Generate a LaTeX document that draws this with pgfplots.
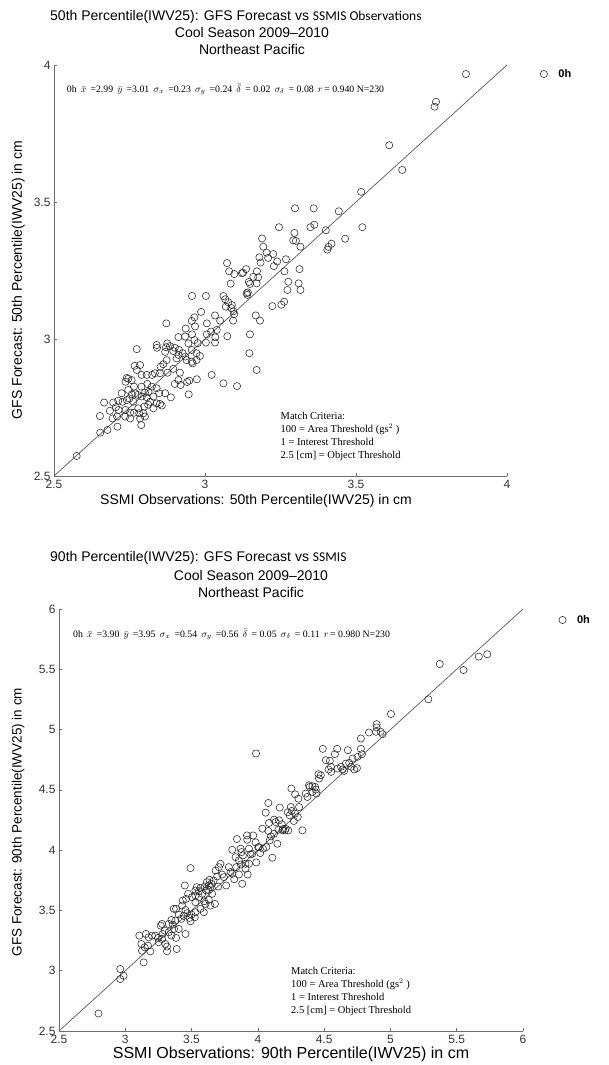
\documentclass[border=0pt]{standalone}
\usepackage{fontspec}
\setmainfont{Liberation Sans}
\newfontfamily\serif{Liberation Serif}
\newfontfamily\calib{Carlito}
\usepackage{pgfplots}
\pgfplotsset{compat=1.18}
\pgfplotstableread{
x y
3.864 3.967
3.765 3.866
3.760 3.848
3.610 3.707
3.653 3.617
3.517 3.537
3.521 3.408
3.298 3.477
3.360 3.477
3.443 3.466
3.245 3.408
3.349 3.408
3.362 3.417
3.400 3.397
3.464 3.366
3.419 3.348
3.409 3.336
3.405 3.326
3.296 3.387
3.292 3.360
3.301 3.358
3.316 3.337
3.189 3.367
3.193 3.337
3.180 3.298
3.204 3.315
3.226 3.310
3.209 3.296
3.184 3.279
3.239 3.283
3.268 3.291
3.228 3.266
3.263 3.247
3.313 3.255
3.073 3.277
3.080 3.247
3.097 3.237
3.126 3.242
3.136 3.255
3.172 3.247
3.176 3.225
3.085 3.202
3.145 3.208
3.149 3.201
3.171 3.203
3.276 3.209
3.273 3.179
3.310 3.203
3.316 3.179
3.142 3.170
3.140 3.161
3.262 3.136
3.253 3.125
3.223 3.120
2.957 3.157
3.003 3.157
3.061 3.157
3.067 3.145
3.077 3.134
3.087 3.113
3.094 3.101
3.097 3.091
3.093 3.067
3.168 3.086
3.182 3.067
3.149 3.017
3.147 2.948
3.171 2.887
3.074 3.010
3.106 2.828
3.061 2.838
3.022 2.869
3.050 3.067
3.033 3.086
3.006 3.057
2.987 3.099
2.965 3.079
2.956 3.066
2.967 3.046
2.936 3.038
2.872 3.057
2.912 3.007
2.934 3.009
2.957 3.017
2.965 2.996
2.945 2.984
2.976 2.985
3.006 3.017
3.003 2.987
3.034 3.006
3.033 2.987
2.983 2.938
2.972 2.923
2.959 2.911
2.939 2.923
2.935 2.936
2.912 2.942
2.914 2.960
2.900 2.968
2.895 2.956
2.884 2.974
2.875 2.984
2.871 2.970
2.868 2.953
2.840 2.978
2.841 2.968
2.774 2.963
2.862 2.908
2.853 2.899
2.876 2.877
2.895 2.891
2.917 2.877
2.912 2.850
2.948 2.848
2.941 2.843
2.973 2.853
2.946 2.798
2.900 2.836
2.887 2.787
2.848 2.802
2.840 2.820
2.825 2.869
2.834 2.875
2.807 2.869
2.809 2.836
2.790 2.869
2.785 2.905
2.767 2.902
2.741 2.858
2.746 2.855
2.737 2.844
2.757 2.850
2.765 2.826
2.790 2.826
2.801 2.804
2.813 2.807
2.829 2.790
2.851 2.763
2.857 2.757
2.840 2.765
2.818 2.771
2.807 2.787
2.791 2.790
2.777 2.796
2.769 2.802
2.758 2.798
2.750 2.783
2.741 2.777
2.727 2.771
2.713 2.775
2.696 2.768
2.666 2.768
2.685 2.738
2.705 2.751
2.714 2.741
2.737 2.741
2.752 2.731
2.765 2.731
2.782 2.729
2.779 2.747
2.799 2.753
2.812 2.760
2.785 2.710
2.801 2.717
2.789 2.686
2.752 2.710
2.736 2.717
2.709 2.717
2.694 2.710
2.652 2.719
2.710 2.680
2.677 2.668
2.653 2.658
2.575 2.573
2.763 2.771
2.746 2.814
2.724 2.802
2.824 2.826
2.868 2.802
2.919 2.832
2.796 2.729
2.829 2.747
2.774 2.887
2.851 2.875
2.873 2.923
2.906 2.929
2.926 2.948
2.956 2.960
2.972 2.948
2.956 2.917
3.039 3.033
3.020 3.027
3.069 3.118
3.089 3.124
3.138 3.167
3.160 3.227
3.122 3.240
}\topdata
\pgfplotstableread{
x y
5.730 5.625
5.667 5.605
5.372 5.544
5.551 5.494
5.286 5.251
5.004 5.129
4.896 5.045
4.896 5.018
4.838 4.976
4.926 4.982
4.941 4.962
4.777 4.926
3.986 4.802
4.490 4.840
4.598 4.840
4.679 4.829
4.777 4.840
4.785 4.796
4.581 4.796
4.513 4.746
4.543 4.741
4.715 4.760
4.664 4.718
4.627 4.691
4.639 4.669
4.551 4.691
4.533 4.669
4.553 4.649
4.651 4.657
4.704 4.691
4.727 4.669
4.747 4.680
4.457 4.630
4.462 4.594
4.386 4.538
4.391 4.524
4.432 4.524
4.437 4.502
4.412 4.483
4.361 4.469
4.442 4.469
4.306 4.427
4.253 4.511
4.281 4.463
4.079 4.391
4.059 4.311
4.165 4.353
4.248 4.358
4.255 4.325
4.225 4.314
4.281 4.303
4.301 4.275
4.271 4.242
4.160 4.247
4.122 4.253
4.134 4.233
4.180 4.214
4.205 4.164
4.185 4.164
4.210 4.178
4.336 4.164
4.084 4.225
4.034 4.178
4.079 4.159
4.099 4.114
4.147 4.053
4.109 3.937
3.918 4.122
3.965 4.122
3.920 4.086
3.983 4.064
4.003 4.025
4.039 4.012
4.064 4.025
4.018 3.976
3.842 4.092
3.807 4.003
3.870 4.012
3.887 3.956
3.945 3.965
3.857 3.915
3.872 3.881
3.907 3.887
3.988 3.898
3.837 3.859
3.781 3.859
3.794 3.818
3.857 3.798
3.923 3.798
3.822 3.759
3.882 3.721
3.706 3.859
3.718 3.887
3.681 3.831
3.731 3.798
3.761 3.707
3.693 3.782
3.666 3.748
3.615 3.734
3.635 3.754
3.651 3.721
3.600 3.698
3.630 3.707
3.567 3.687
3.555 3.660
3.529 3.665
3.492 3.851
3.449 3.707
3.539 3.693
3.610 3.665
3.655 3.638
3.676 3.554
3.630 3.588
3.595 3.576
3.592 3.485
3.555 3.610
3.529 3.624
3.504 3.610
3.474 3.638
3.529 3.568
3.459 3.596
3.434 3.582
3.429 3.540
3.454 3.504
3.499 3.466
3.524 3.443
3.467 3.477
3.484 3.438
3.441 3.455
3.423 3.430
3.383 3.513
3.366 3.513
3.403 3.466
3.378 3.416
3.358 3.382
3.328 3.388
3.348 3.421
3.277 3.388
3.267 3.374
3.297 3.333
3.328 3.319
3.383 3.272
3.454 3.305
3.388 3.180
3.315 3.200
3.315 3.161
3.277 3.263
3.247 3.272
3.227 3.291
3.202 3.291
3.176 3.277
3.156 3.305
3.106 3.291
3.121 3.222
3.126 3.166
3.171 3.208
3.189 3.161
3.139 3.069
3.146 3.194
3.252 3.236
3.282 3.305
2.962 3.014
2.987 2.958
2.962 2.931
2.798 2.645
3.348 3.291
3.302 3.222
3.403 3.346
3.368 3.346
3.492 3.410
3.529 3.485
3.567 3.513
3.605 3.554
3.642 3.540
3.580 3.638
3.642 3.693
3.625 3.671
3.701 3.698
3.744 3.776
3.807 3.804
3.832 3.942
3.877 3.984
3.933 4.012
3.958 3.970
3.907 3.845
3.933 3.887
4.008 4.025
4.089 4.081
4.122 4.136
4.155 4.170
4.190 4.175
4.230 4.164
4.240 4.289
4.311 4.358
4.374 4.441
4.412 4.530
4.475 4.621
4.601 4.677
4.689 4.724
4.752 4.774
4.891 4.982
}\botdata
\definecolor{axgray}{RGB}{110,110,110}
\definecolor{diag}{RGB}{90,90,90}
\definecolor{mk}{RGB}{40,40,40}
\pgfplotsset{
  common/.style={
    scale only axis,
    axis x line*=bottom, axis y line*=left,
    axis line style={axgray, line width=0.7pt},
    tick style={axgray, line width=0.6pt},
    tick align=inside,
    major tick length=3pt,
    /pgf/number format/assume math mode=true,
    ticklabel style={font=\fontsize{12}{14}\selectfont, text=black!80},
    legend style={draw=none, fill=none, font=\fontsize{11}{13}\selectfont\bfseries, inner sep=0pt, column sep=9pt},
    legend cell align=left,
  },
  circ/.style={only marks, mark=o, mark size=3.6pt, mark options={draw=mk, line width=0.55pt}},
}
\begin{document}
\begin{tikzpicture}[x=1pt,y=1pt]
\useasboundingbox (0,0) rectangle (608,1065);
% ---------- top ----------
\node[anchor=west, inner sep=0pt] at (50,1048) {\fontsize{14}{16}\selectfont 50th Percentile(IWV25): GFS Forecast vs {\calib\fontsize{13.5}{16}\selectfont SSMIS Observations}};
\node[inner sep=0pt] at (252,1032) {\fontsize{14}{16}\selectfont Cool Season 2009--2010};
\node[inner sep=0pt] at (252,1015) {\fontsize{14}{16}\selectfont Northeast Pacific};
\begin{axis}[common,
  at={(54pt,589pt)}, anchor=south west,
  width=453pt, height=411pt,
  xmin=2.5, xmax=4, ymin=2.5, ymax=4,
  xtick={2.5,3,3.5,4}, ytick={2.5,3,3.5,4},
  xticklabel style={yshift=-1pt},
  xlabel={SSMI Observations: 50th Percentile(IWV25) in cm},
  ylabel={GFS Forecast: 50th Percentile(IWV25) in cm},
  x label style={at={(axis description cs:0.446,-0.06)}, anchor=center, font=\fontsize{14}{16}\selectfont},
  y label style={at={(axis description cs:-0.079,0.477)}, anchor=center, font=\fontsize{14}{16}\selectfont},
  legend style={at={(axis description cs:1.073,0.978)}, anchor=west},
  clip=false,
]
\addplot[circ] table {\topdata};
\addlegendentry{0h}
\addplot[diag, line width=0.7pt, forget plot] coordinates {(2.5,2.5) (4,4)};
\node[anchor=west, inner sep=0pt, font=\serif\fontsize{9.8}{12}\selectfont] at (axis description cs:0.028,0.94) {0h\, $\bar{x}$\, =2.99\, $\bar{y}$\, =3.01\, $\sigma_x$\, =0.23\, $\sigma_y$\, =0.24\, $\bar{\delta}$\, = 0.02\, $\sigma_{\delta}$\, = 0.08\, $r$\,= 0.940 N=230};
\node[anchor=north west, inner sep=0pt, align=left, font=\serif\fontsize{10.5}{13}\selectfont] at (axis description cs:0.5,0.155) {Match Criteria:\\ 100 = Area Threshold (gs$^2$ )\\ 1 = Interest Threshold\\ 2.5 [cm] = Object Threshold};
\end{axis}
% ---------- bottom ----------
\node[anchor=west, inner sep=0pt] at (50,507) {\fontsize{14}{16}\selectfont 90th Percentile(IWV25): GFS Forecast vs {\calib\fontsize{13.5}{16}\selectfont SSMIS}};
\node[inner sep=0pt] at (251,489) {\fontsize{14}{16}\selectfont Cool Season 2009--2010};
\node[inner sep=0pt] at (251,472) {\fontsize{14}{16}\selectfont Northeast Pacific};
\begin{axis}[common,
  at={(59pt,34pt)}, anchor=south west,
  width=464pt, height=422pt,
  xmin=2.5, xmax=6, ymin=2.5, ymax=6,
  xtick={2.5,3,...,6}, ytick={2.5,3,...,6},
  xticklabel style={yshift=-1pt},
  xlabel={SSMI Observations: 90th Percentile(IWV25) in cm},
  ylabel={GFS Forecast: 90th Percentile(IWV25) in cm},
  x label style={at={(axis description cs:0.5,-0.056)}, anchor=center, font=\fontsize{16}{18}\selectfont},
  y label style={at={(axis description cs:-0.088,0.495)}, anchor=center, font=\fontsize{13.5}{16}\selectfont},
  legend style={at={(axis description cs:1.077,0.974)}, anchor=west},
  clip=false,
]
\addplot[circ] table {\botdata};
\addlegendentry{0h}
\addplot[diag, line width=0.7pt, forget plot] coordinates {(2.5,2.5) (6,6)};
\node[anchor=west, inner sep=0pt, font=\serif\fontsize{9.8}{12}\selectfont] at (axis description cs:0.03,0.94) {0h\, $\bar{x}$\, =3.90\, $\bar{y}$\, =3.95\, $\sigma_x$\, =0.54\, $\sigma_y$\, =0.56\, $\bar{\delta}$\, = 0.05\, $\sigma_{\delta}$\, = 0.11\, $r$\,= 0.980 N=230};
\node[anchor=north west, inner sep=0pt, align=left, font=\serif\fontsize{10.5}{13}\selectfont] at (axis description cs:0.5,0.152) {Match Criteria:\\ 100 = Area Threshold (gs$^2$ )\\ 1 = Interest Threshold\\ 2.5 [cm] = Object Threshold};
\end{axis}
\end{tikzpicture}
\end{document}
